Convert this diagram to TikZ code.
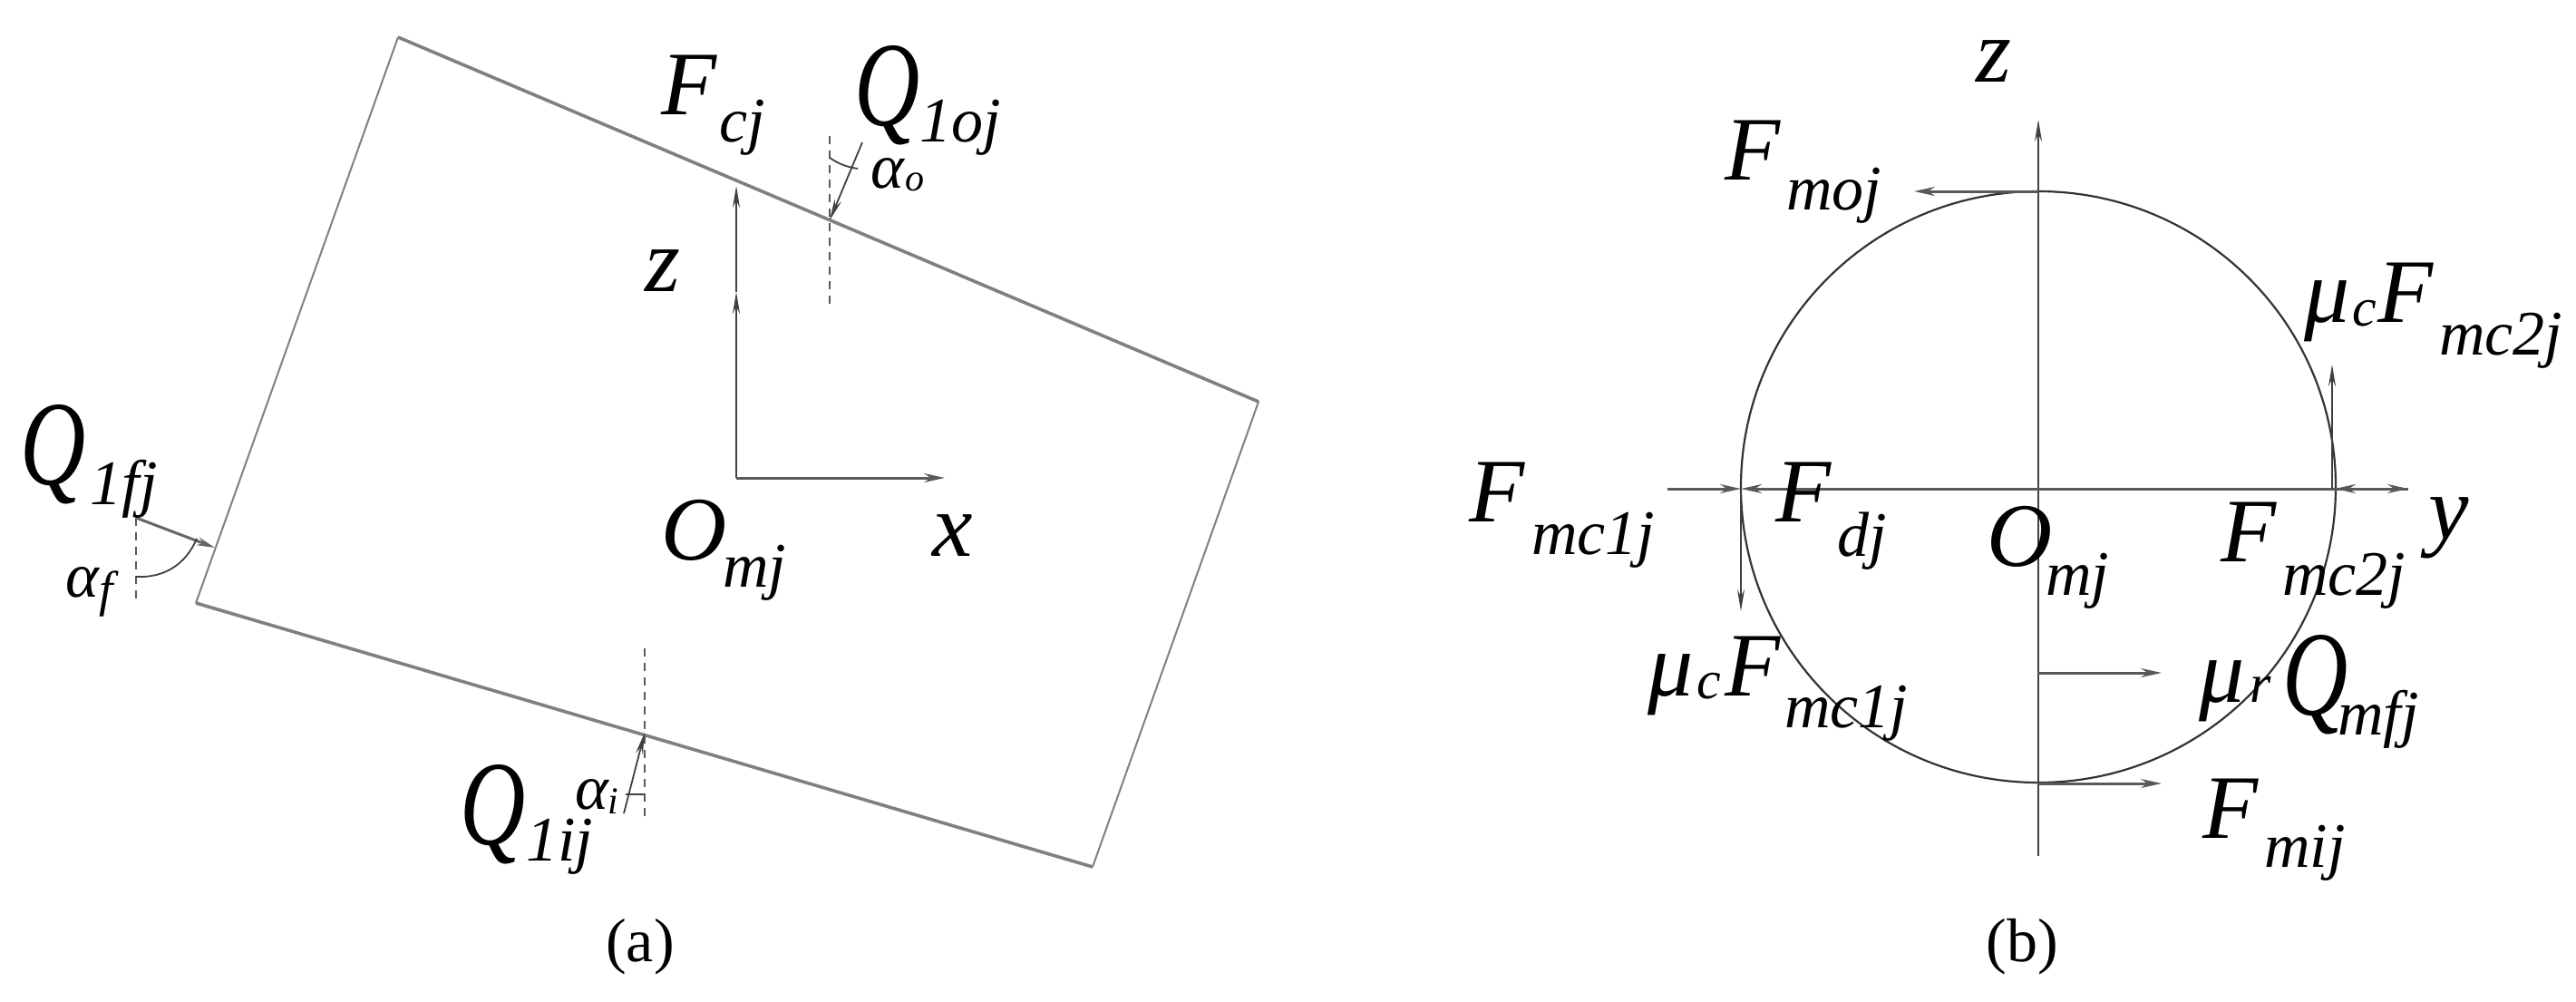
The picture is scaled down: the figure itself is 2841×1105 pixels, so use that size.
\documentclass[tikz,border=0pt]{standalone}
\usepackage{fontspec}
\usepackage{graphicx}
\setmainfont{Liberation Serif}
\usetikzlibrary{arrows.meta}
\newdimen\curx
\newcommand\Pc[4]{\setbox0\hbox{\fontsize{#3}{#3}\selectfont\itshape #4}\kern\dimexpr #1pt-\curx\relax\curx=\dimexpr #1pt+\wd0\relax\raisebox{-#2pt}{\box0}}
\newcommand\QQ{\scalebox{1}[1.33]{Q}}
\tikzset{
  lab/.style={inner sep=0pt,outer sep=0pt,anchor=base west,execute at begin node={\curx=0pt}},
  captext/.style={inner sep=0pt,outer sep=0pt,anchor=base,font=\fontsize{68}{68}\selectfont},
  wideedge/.style={line width=3.6pt,draw=black!50},
  thinedge/.style={line width=2pt,draw=black!50},
  axline/.style={line width=1.8pt,draw=black!75},
  dashline/.style={line width=1.6pt,draw=black!65,dash pattern=on 9pt off 7pt},
  slimtip/.style={-{Stealth[length=24pt,width=8pt]}},
  bigtip/.style={-{Stealth[length=23pt,width=10pt]},line width=3pt,draw=black!65},
}
\begin{document}
\begin{tikzpicture}[x=1pt,y=-1pt]
\useasboundingbox (0,0) rectangle (2841,1105);
% panel a
\coordinate (tl) at (439,41);
\coordinate (tr) at (1388,443);
\coordinate (br) at (1205,956);
\coordinate (bl) at (216,665);
\draw[wideedge] (tl) -- (tr);
\draw[wideedge] (bl) -- (br);
\draw[thinedge] (tl) -- (bl);
\draw[thinedge] (tr) -- (br);
\coordinate (oa) at (812,527);
\coordinate (zm) at (812,322);
\coordinate (zt) at (812,205);
\coordinate (xe) at (1042,527);
\draw[axline,slimtip] (oa) -- (zm);
\draw[axline,slimtip] (zm) -- (zt);
\draw[bigtip] (oa) -- (xe);
% top contact
\coordinate (d1a) at (915,150);
\coordinate (d1b) at (915,336);
\coordinate (s1a) at (951,157);
\coordinate (s1b) at (915,243);
\coordinate (a1a) at (915,174);
\coordinate (a1b) at (946,186);
\draw[dashline] (d1a) -- (d1b);
\draw[axline,slimtip] (s1a) -- (s1b);
\draw[axline] (a1a) to[bend right=12] (a1b);
% left contact
\coordinate (d2a) at (150,571);
\coordinate (d2b) at (150,665);
\coordinate (s2b) at (237,604);
\coordinate (a2a) at (217,594);
\coordinate (a2b) at (150,636);
\draw[dashline] (d2a) -- (d2b);
\draw[line width=3pt,draw=black!60,-{Stealth[length=20pt,width=9pt]}] (d2a) -- (s2b);
\draw[axline] (a2a) to[bend left=35] (a2b);
% bottom contact
\coordinate (d3a) at (711,715);
\coordinate (d3b) at (711,902);
\coordinate (s3a) at (688,897);
\coordinate (s3b) at (711,808);
\coordinate (a3a) at (690,876);
\coordinate (a3b) at (711,876);
\draw[dashline] (d3a) -- (d3b);
\draw[axline,slimtip] (s3a) -- (s3b);
\draw[axline] (a3a) -- (a3b);
% labels a
\node[lab] (fcj) at (729,127) {\Pc{0}{0}{100}{F}\Pc{64}{30}{70}{cj}};
\node[lab] (qoj) at (942,139) {\Pc{0}{0}{100}{\QQ}\Pc{72}{18}{70}{1oj}};
\node[lab] (ao) at (960,207) {\Pc{0}{0}{70}{α}\Pc{38}{3}{42}{o}};
\node[lab] (za) at (711,321) {\Pc{0}{0}{100}{z}};
\node[lab] (xa) at (1028,613) {\Pc{0}{0}{100}{x}};
\node[lab] (oma) at (729,617) {\Pc{0}{0}{100}{O}\Pc{68}{30}{70}{mj}};
\node[lab] (qfj) at (23,534) {\Pc{0}{0}{100}{\QQ}\Pc{77}{22}{70}{1fj}};
\node[lab] (af) at (72,658) {\Pc{0}{0}{70}{α}\Pc{37}{10}{55}{f}};
\node[lab] (qij) at (507,931) {\Pc{0}{0}{100}{\QQ}\Pc{73}{18}{70}{1ij}};
\node[lab] (ai) at (634,892) {\Pc{0}{0}{70}{α}\Pc{36}{5}{42}{i}};
\node[captext] (capa) at (706,1060) {(a)};
% panel b
\coordinate (c) at (2248,537);
\draw[line width=2.2pt,draw=black!80] (c) ellipse [x radius=328,y radius=326];
\coordinate (vb) at (2248,944);
\coordinate (vt) at (2248,132);
\coordinate (hl) at (1839,539);
\coordinate (hr) at (2656,539);
\coordinate (hc) at (2248,539);
\draw[axline,slimtip] (vb) -- (vt);
\coordinate (h1) at (1920,539);
\coordinate (h3) at (2575,539);
\draw[bigtip] (hl) -- (h1);
\draw[bigtip] (hc) -- (h1);
\draw[bigtip] (hc) -- (hr);
\draw[bigtip] (hr) -- (h3);
\coordinate (ft) at (2248,211);
\coordinate (ftl) at (2111,211);
\draw[bigtip] (ft) -- (ftl);
\coordinate (ru) at (2572,539);
\coordinate (rut) at (2572,402);
\draw[axline,slimtip] (ru) -- (rut);
\coordinate (ld) at (1920,539);
\coordinate (ldb) at (1920,674);
\draw[axline,slimtip] (ld) -- (ldb);
\coordinate (m1) at (2248,742);
\coordinate (m1e) at (2384,742);
\draw[bigtip] (m1) -- (m1e);
\coordinate (m2) at (2248,864);
\coordinate (m2e) at (2384,864);
\draw[bigtip] (m2) -- (m2e);
% labels b
\node[lab] (zb) at (2179,91) {\Pc{0}{0}{100}{z}};
\node[lab] (fmoj) at (1902,198) {\Pc{0}{0}{100}{F}\Pc{68}{33}{70}{moj}};
\node[lab] (muc2) at (2541,355) {\Pc{0}{0}{100}{μ}\Pc{53}{4}{60}{c}\Pc{81}{0}{100}{F}\Pc{149}{36}{70}{mc2j}};
\node[lab] (fmc1) at (1620,575) {\Pc{0}{0}{100}{F}\Pc{69}{36}{70}{mc1j}};
\node[lab] (fdj) at (1958,575) {\Pc{0}{0}{100}{F}\Pc{68}{38}{70}{dj}};
\node[lab] (omb) at (2191,624) {\Pc{0}{0}{100}{O}\Pc{65}{32}{70}{mj}};
\node[lab] (fmc2) at (2449,619) {\Pc{0}{0}{100}{F}\Pc{68}{37}{70}{mc2j}};
\node[lab] (yb) at (2678,594) {\Pc{0}{0}{100}{y}};
\node[lab] (muc1) at (1817,767) {\Pc{0}{0}{100}{μ}\Pc{54}{3}{60}{c}\Pc{85}{0}{100}{F}\Pc{151}{35}{70}{mc1j}};
\node[lab] (qmfj) at (2425,774) {\Pc{0}{0}{100}{μ}\Pc{56}{0}{60}{r}\Pc{92}{14}{100}{\QQ}\Pc{153}{36}{70}{mfj}};
\node[lab] (fmij) at (2429,924) {\Pc{0}{0}{100}{F}\Pc{68}{32}{70}{mij}};
\node[captext] (capb) at (2230,1060) {(b)};
\end{tikzpicture}
\end{document}
